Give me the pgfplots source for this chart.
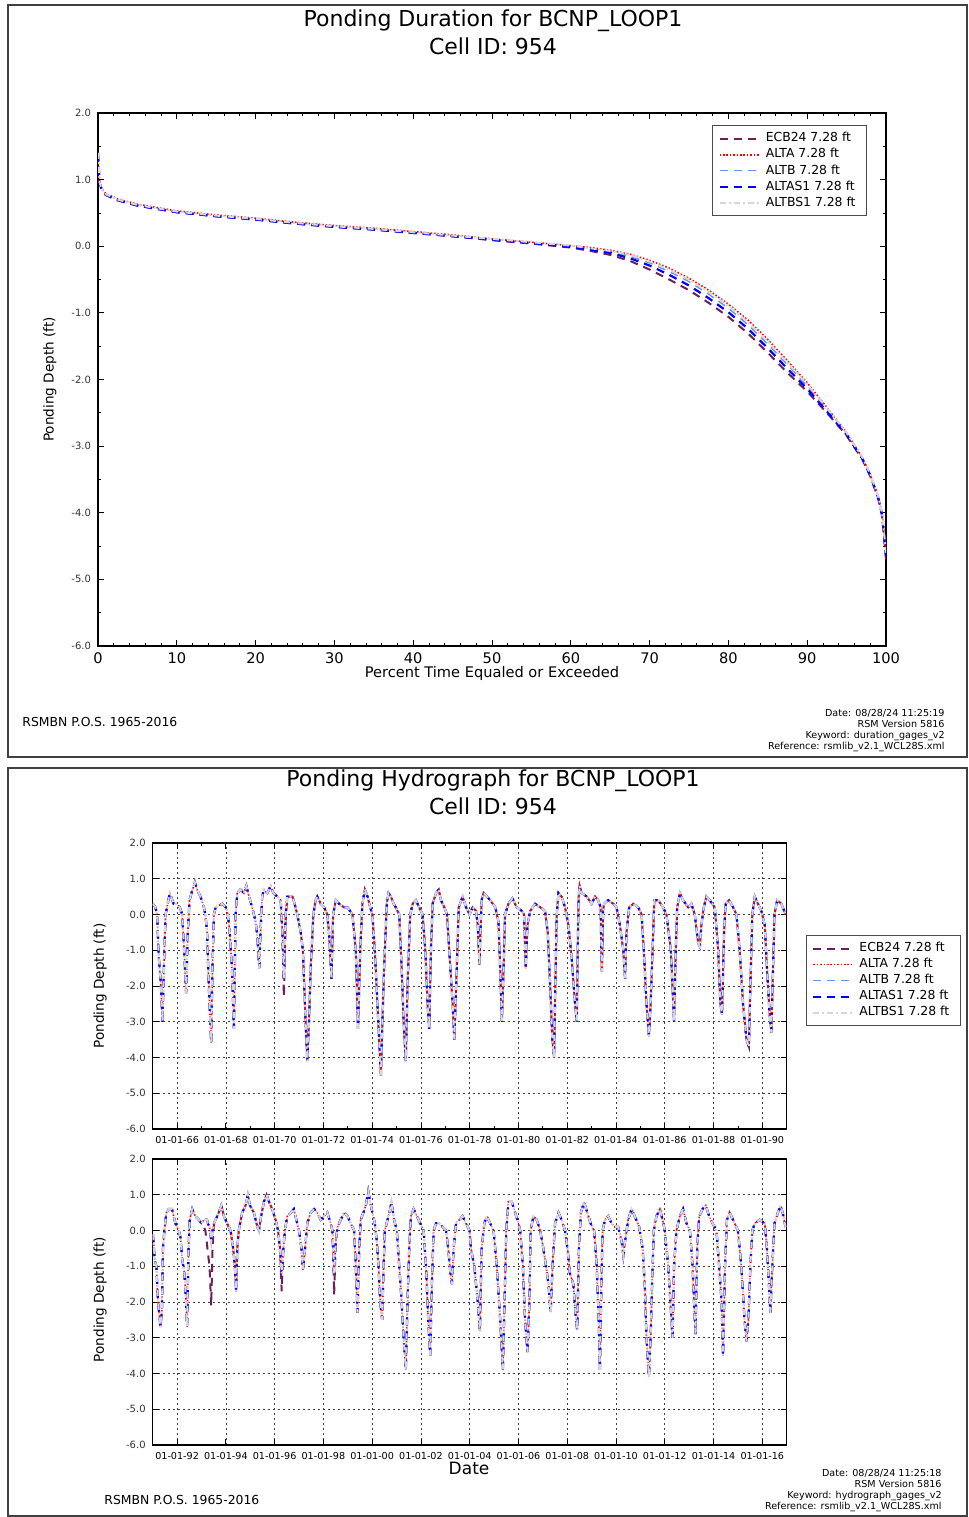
\documentclass[border=0pt]{standalone}
\usepackage{fontspec}
\setmainfont{DejaVu Sans}
\usepackage{pgfplots}
\usepackage{pgfplotstable}
\pgfplotsset{compat=1.18}

\definecolor{ecbcol}{HTML}{6E1E5E}
\definecolor{altbcol}{HTML}{6495ED}
\definecolor{altbscol}{HTML}{D6D6D6}

% duration curves, percent of time vs depth
\pgfplotstableread{
p     ecb   alta  altb  altas1 altbs1
0     1.40  1.40  1.40  1.40  1.40
0.2   0.95  0.97  0.96  0.95  0.96
0.5   0.84  0.86  0.85  0.84  0.85
1     0.77  0.79  0.78  0.77  0.78
2.5   0.69  0.71  0.70  0.69  0.70
5     0.61  0.63  0.62  0.61  0.62
10    0.51  0.53  0.52  0.51  0.52
15    0.45  0.47  0.46  0.45  0.46
20    0.40  0.42  0.41  0.40  0.41
25    0.34  0.36  0.35  0.34  0.35
30    0.29  0.31  0.30  0.29  0.30
35    0.25  0.27  0.26  0.25  0.26
40    0.20  0.22  0.21  0.20  0.21
45    0.15  0.17  0.16  0.15  0.16
50    0.09  0.11  0.10  0.10  0.11
55    0.04  0.06  0.05  0.05  0.06
60   -0.02  0.01  0.00 -0.01  0.01
62.5 -0.07 -0.02 -0.04 -0.05 -0.03
65   -0.13 -0.06 -0.08 -0.10 -0.07
67.5 -0.22 -0.12 -0.15 -0.18 -0.13
70   -0.35 -0.21 -0.25 -0.29 -0.23
72.5 -0.50 -0.33 -0.38 -0.43 -0.35
75   -0.66 -0.48 -0.53 -0.59 -0.50
77.5 -0.85 -0.66 -0.72 -0.78 -0.69
80   -1.06 -0.87 -0.93 -0.99 -0.89
82.5 -1.31 -1.11 -1.18 -1.24 -1.14
85   -1.60 -1.40 -1.47 -1.53 -1.43
87.5 -1.90 -1.72 -1.78 -1.84 -1.75
90   -2.18 -2.05 -2.10 -2.14 -2.07
92.5 -2.50 -2.42 -2.45 -2.48 -2.43
95   -2.84 -2.80 -2.81 -2.83 -2.80
97   -3.20 -3.17 -3.18 -3.19 -3.17
98   -3.45 -3.42 -3.43 -3.44 -3.42
99   -3.78 -3.75 -3.76 -3.77 -3.75
99.5 -4.05 -4.00 -4.02 -4.03 -4.01
100  -4.70 -4.60 -4.62 -4.65 -4.60
}\durtab

% hydrograph 1965-1991: y = alternatives, e = ECB24
\pgfplotstableread{
t y e
1965.00 0.3 0.3
1965.11 0.2 0.2
1965.18 0.0 0.0
1965.25 -1.2 -1.2
1965.34 -2.0 -2.0
1965.40 -3.0 -3.0
1965.48 -1.0 -1.0
1965.53 0.0 0.0
1965.70 0.6 0.6
1965.86 0.3 0.3
1966.00 0.3 0.3
1966.11 0.2 0.2
1966.21 0.0 0.0
1966.29 -1.0 -1.0
1966.37 -2.2 -2.2
1966.44 -0.5 -0.5
1966.51 0.4 0.4
1966.59 0.6 0.6
1966.73 0.9 0.9
1966.82 0.7 0.7
1966.96 0.5 0.5
1967.10 0.2 0.2
1967.16 0.0 0.0
1967.23 -0.5 -0.5
1967.30 -2.0 -2.0
1967.40 -3.6 -3.6
1967.45 -1.5 -1.5
1967.51 0.0 0.0
1967.58 0.2 0.2
1967.71 0.25 0.25
1967.85 0.3 0.3
1968.00 0.2 0.2
1968.08 0.0 0.0
1968.16 -0.5 -0.5
1968.25 -1.5 -1.5
1968.33 -3.2 -3.2
1968.40 0.0 0.0
1968.47 0.6 0.6
1968.60 0.7 0.7
1968.74 0.6 0.6
1968.84 0.8 0.8
1968.95 0.5 0.5
1969.08 0.2 0.2
1969.22 -0.2 -0.2
1969.29 -0.6 -0.6
1969.37 -1.5 -1.5
1969.42 -0.5 -0.5
1969.49 0.5 0.5
1969.56 0.7 0.7
1969.70 0.6 0.6
1969.84 0.8 0.8
1969.95 0.6 0.6
1970.11 0.5 0.5
1970.25 0.4 0.4
1970.32 -0.5 -0.6
1970.38 -1.8 -2.3
1970.45 0.0 -0.2
1970.52 0.5 0.5
1970.73 0.5 0.5
1970.82 0.3 0.3
1970.93 0.0 0.0
1971.07 -0.5 -0.5
1971.16 -1.0 -1.0
1971.27 -3.0 -3.0
1971.34 -4.1 -4.1
1971.41 -3.0 -3.0
1971.48 -1.5 -1.5
1971.59 0.0 0.0
1971.68 0.4 0.4
1971.75 0.5 0.5
1971.89 0.3 0.3
1972.03 0.2 0.2
1972.16 0.0 0.0
1972.23 -0.5 -0.5
1972.33 -1.8 -1.8
1972.40 0.0 0.0
1972.51 0.4 0.4
1972.64 0.3 0.3
1972.85 0.2 0.2
1972.99 0.2 0.2
1973.19 0.0 0.0
1973.33 -1.0 -1.0
1973.42 -3.2 -3.2
1973.51 -1.0 -1.0
1973.60 0.3 0.3
1973.70 0.7 0.7
1973.81 0.5 0.5
1973.92 0.2 0.2
1974.01 0.0 0.0
1974.11 -1.0 -1.0
1974.25 -3.0 -3.0
1974.36 -4.5 -4.5
1974.42 -3.0 -3.0
1974.49 -1.5 -1.5
1974.60 0.3 0.3
1974.67 0.6 0.6
1974.77 0.5 0.5
1974.88 0.3 0.3
1974.97 0.2 0.2
1975.11 0.0 0.0
1975.21 -1.5 -1.5
1975.29 -3.0 -3.0
1975.38 -4.1 -4.1
1975.45 -2.0 -2.0
1975.56 0.0 0.0
1975.66 0.3 0.3
1975.79 0.4 0.4
1975.93 0.2 0.2
1976.07 0.0 0.0
1976.18 -1.0 -1.0
1976.27 -2.5 -2.5
1976.34 -3.2 -3.2
1976.41 -1.0 -1.0
1976.48 0.3 0.3
1976.62 0.6 0.6
1976.73 0.7 0.7
1976.82 0.4 0.4
1976.96 0.2 0.2
1977.07 0.0 0.0
1977.16 -1.0 -1.0
1977.30 -2.5 -2.5
1977.37 -3.5 -3.5
1977.47 -1.5 -1.5
1977.55 0.2 0.2
1977.71 0.5 0.5
1977.85 0.2 0.2
1977.99 0.0 0.0
1978.12 0.2 0.2
1978.26 0.1 0.1
1978.33 -0.3 -0.3
1978.40 -1.4 -1.4
1978.44 -0.5 -0.5
1978.49 0.4 0.4
1978.57 0.6 0.6
1978.84 0.4 0.4
1979.05 0.2 0.2
1979.18 -0.2 -0.2
1979.25 -1.5 -1.5
1979.32 -3.0 -3.0
1979.39 -1.5 -1.5
1979.45 0.0 0.0
1979.59 0.3 0.3
1979.75 0.45 0.45
1979.93 0.2 0.2
1980.14 0.1 0.1
1980.23 0.0 0.0
1980.30 -1.5 -1.5
1980.37 -0.3 -0.3
1980.48 0.1 0.1
1980.68 0.3 0.3
1980.89 0.2 0.2
1981.09 0.1 0.1
1981.20 -0.5 -0.5
1981.30 -2.0 -2.0
1981.39 -3.5 -3.5
1981.46 -4.0 -4.0
1981.51 -2.0 -2.0
1981.57 0.0 0.0
1981.64 0.6 0.6
1981.77 0.5 0.5
1981.91 0.2 0.2
1982.05 -0.3 -0.3
1982.18 -1.2 -1.2
1982.32 -2.5 -2.5
1982.39 -3.0 -3.0
1982.43 -1.0 -1.0
1982.47 0.5 0.5
1982.51 0.8 0.8
1982.59 0.6 0.6
1982.80 0.5 0.5
1983.00 0.3 0.3
1983.14 0.5 0.5
1983.27 0.4 0.4
1983.37 0.2 0.2
1983.40 -1.0 -1.0
1983.42 -1.6 -1.6
1983.47 0.1 0.1
1983.51 0.3 0.3
1983.68 0.4 0.4
1983.89 0.3 0.3
1984.02 0.2 0.2
1984.16 -0.3 -0.3
1984.30 -1.0 -1.0
1984.37 -1.8 -1.8
1984.43 -0.5 -0.5
1984.54 0.2 0.2
1984.71 0.3 0.3
1984.91 0.2 0.2
1985.05 0.0 0.0
1985.14 -1.0 -1.0
1985.25 -2.5 -2.5
1985.35 -3.4 -3.4
1985.42 -2.5 -2.5
1985.50 -1.0 -1.0
1985.57 0.4 0.4
1985.73 0.4 0.4
1985.93 0.2 0.2
1986.07 0.0 0.0
1986.25 -1.0 -1.0
1986.38 -3.0 -3.0
1986.45 -1.0 -1.0
1986.51 0.2 0.2
1986.62 0.6 0.6
1986.75 0.4 0.4
1986.96 0.2 0.2
1987.09 0.3 0.3
1987.23 0.0 0.0
1987.37 -0.8 -0.8
1987.44 -0.9 -0.9
1987.50 -0.3 -0.3
1987.60 0.2 0.2
1987.71 0.5 0.5
1987.84 0.4 0.4
1988.05 0.2 0.2
1988.19 -1.0 -1.0
1988.28 -2.5 -2.5
1988.35 -2.8 -2.8
1988.43 -0.5 -0.5
1988.50 0.3 0.3
1988.64 0.4 0.4
1988.80 0.2 0.2
1988.94 0.0 0.0
1989.07 -1.0 -1.0
1989.21 -2.5 -2.5
1989.35 -3.5 -3.5
1989.45 -3.7 -3.7
1989.51 -2.0 -2.0
1989.59 0.0 0.0
1989.69 0.5 0.5
1989.82 0.3 0.3
1989.96 0.1 0.1
1990.10 -0.3 -0.3
1990.19 -1.5 -1.5
1990.30 -2.8 -2.8
1990.37 -3.3 -3.3
1990.44 -1.5 -1.5
1990.50 0.0 0.0
1990.61 0.4 0.4
1990.78 0.3 0.3
1990.96 0.0 0.0
}\hydA

% hydrograph 1991-2017
\pgfplotstableread{
t y e
1991.01 -0.1 -0.1
1991.08 -0.8 -0.8
1991.15 -1.0 -1.0
1991.22 -2.0 -2.0
1991.32 -2.7 -2.7
1991.38 -2.2 -2.2
1991.42 -0.5 -0.5
1991.48 0.0 0.0
1991.56 0.5 0.5
1991.66 0.6 0.6
1991.79 0.6 0.6
1991.93 0.2 0.2
1992.07 0.0 0.0
1992.14 -0.2 -0.2
1992.21 -0.8 -0.8
1992.30 -1.2 -1.2
1992.37 -2.0 -2.0
1992.41 -2.7 -2.7
1992.47 -0.5 -0.5
1992.52 0.3 0.3
1992.62 0.6 0.6
1992.75 0.4 0.4
1992.89 0.3 0.3
1993.00 0.2 0.2
1993.10 0.3 0.1
1993.16 0.3 0.0
1993.23 0.3 -0.4
1993.26 0.2 -0.6
1993.33 0.1 -1.0
1993.40 -0.3 -2.1
1993.45 0.0 -0.6
1993.51 0.2 0.2
1993.58 0.3 0.3
1993.71 0.5 0.5
1993.81 0.7 0.7
1993.92 0.4 0.4
1994.05 0.2 0.2
1994.19 0.0 0.0
1994.30 -0.5 -0.5
1994.37 -1.0 -1.0
1994.42 -1.7 -1.7
1994.47 -0.5 -0.5
1994.53 0.0 0.0
1994.67 0.5 0.5
1994.81 0.7 0.7
1994.90 1.0 1.0
1994.99 0.7 0.7
1995.15 0.5 0.5
1995.29 0.1 0.1
1995.36 0.0 0.0
1995.42 0.3 0.3
1995.56 0.8 0.8
1995.67 1.0 1.0
1995.77 0.8 0.8
1995.90 0.6 0.6
1996.04 0.3 0.3
1996.14 0.0 0.0
1996.22 -0.5 -0.5
1996.29 -1.2 -1.7
1996.36 -0.5 -0.5
1996.42 0.0 0.0
1996.52 0.4 0.4
1996.66 0.5 0.5
1996.79 0.6 0.6
1996.89 0.3 0.3
1997.00 0.0 0.0
1997.10 -0.5 -0.5
1997.16 -1.1 -1.1
1997.25 -0.5 -0.5
1997.34 0.2 0.2
1997.48 0.5 0.5
1997.62 0.6 0.6
1997.75 0.5 0.5
1997.89 0.3 0.3
1998.03 0.4 0.4
1998.16 0.5 0.5
1998.30 0.2 0.2
1998.37 0.0 0.0
1998.44 -1.2 -1.8
1998.51 -0.3 -0.3
1998.58 0.1 0.1
1998.71 0.3 0.3
1998.85 0.5 0.5
1998.99 0.4 0.4
1999.12 0.2 0.2
1999.26 0.0 0.0
1999.33 -1.0 -1.0
1999.40 -2.3 -2.3
1999.47 -0.5 -0.5
1999.53 0.3 0.3
1999.64 0.5 0.5
1999.74 0.7 0.7
1999.84 1.1 1.1
1999.92 0.8 0.8
2000.01 0.5 0.5
2000.11 0.2 0.2
2000.19 -0.3 -0.3
2000.26 -1.0 -1.0
2000.33 -2.0 -2.0
2000.41 -2.5 -2.5
2000.47 -1.0 -1.0
2000.52 0.0 0.0
2000.63 0.3 0.3
2000.74 0.6 0.6
2000.79 0.8 0.8
2000.90 0.3 0.3
2001.01 0.0 0.0
2001.11 -1.0 -1.0
2001.21 -2.0 -2.0
2001.29 -3.0 -3.0
2001.38 -3.9 -3.9
2001.45 -2.0 -2.0
2001.52 -0.5 -0.5
2001.59 0.4 0.4
2001.70 0.6 0.6
2001.84 0.4 0.4
2001.97 0.2 0.2
2002.11 0.0 0.0
2002.21 -1.0 -1.0
2002.30 -2.5 -2.5
2002.38 -3.5 -3.5
2002.45 -1.5 -1.5
2002.52 0.0 0.0
2002.62 0.2 0.2
2002.75 0.2 0.2
2002.89 0.1 0.1
2003.03 0.0 0.0
2003.12 -0.5 -0.5
2003.21 -1.2 -1.2
2003.27 -1.5 -1.5
2003.34 -0.5 -0.5
2003.44 0.2 0.2
2003.58 0.3 0.3
2003.71 0.4 0.4
2003.85 0.2 0.2
2003.99 0.0 0.0
2004.05 -0.5 -0.5
2004.19 -1.0 -1.0
2004.33 -2.0 -2.0
2004.42 -2.8 -2.8
2004.49 -0.5 -0.5
2004.60 0.2 0.2
2004.70 0.4 0.4
2004.84 0.2 0.2
2004.98 0.0 0.0
2005.11 -1.0 -1.0
2005.25 -2.5 -2.5
2005.36 -3.9 -3.9
2005.43 -2.0 -2.0
2005.50 0.0 0.0
2005.59 0.8 0.8
2005.73 0.8 0.8
2005.86 0.5 0.5
2006.00 0.2 0.2
2006.07 0.0 0.0
2006.18 -1.0 -1.0
2006.27 -2.5 -2.5
2006.37 -3.4 -3.4
2006.45 -2.0 -2.0
2006.50 0.0 0.0
2006.61 0.4 0.4
2006.75 0.3 0.3
2006.89 0.0 0.0
2007.02 -0.5 -0.5
2007.13 -1.0 -1.0
2007.23 -1.5 -1.5
2007.32 -2.3 -2.3
2007.41 -0.8 -0.8
2007.50 0.2 0.2
2007.64 0.5 0.5
2007.77 0.3 0.3
2007.91 0.0 0.0
2008.01 -0.5 -0.5
2008.11 -1.2 -1.2
2008.25 -1.5 -1.5
2008.36 -2.5 -2.5
2008.41 -2.8 -2.8
2008.48 -0.5 -0.5
2008.56 0.5 0.5
2008.69 0.8 0.8
2008.82 0.5 0.5
2008.96 0.2 0.2
2009.10 0.0 0.0
2009.21 -1.0 -1.0
2009.29 -2.5 -2.5
2009.34 -3.9 -3.9
2009.40 -1.5 -1.5
2009.45 0.0 0.0
2009.55 0.3 0.3
2009.68 0.4 0.4
2009.82 0.2 0.2
2009.96 0.1 0.1
2010.09 0.1 0.1
2010.23 -0.3 -0.3
2010.30 -0.7 -0.7
2010.37 -0.3 -0.3
2010.50 0.3 0.3
2010.64 0.6 0.6
2010.77 0.4 0.4
2010.95 0.1 0.1
2011.09 -0.5 -0.5
2011.18 -1.5 -1.5
2011.25 -3.0 -3.0
2011.35 -4.1 -4.1
2011.42 -3.0 -3.0
2011.48 -1.5 -1.5
2011.55 0.0 0.0
2011.66 0.4 0.4
2011.80 0.6 0.6
2011.91 0.3 0.3
2012.00 0.0 0.0
2012.14 -1.0 -1.0
2012.23 -2.0 -2.0
2012.32 -3.0 -3.0
2012.38 -1.0 -1.0
2012.48 0.0 0.0
2012.62 0.4 0.4
2012.75 0.6 0.6
2012.89 0.2 0.2
2013.03 0.0 0.0
2013.14 -1.0 -1.0
2013.20 -2.0 -2.0
2013.26 -2.9 -2.9
2013.33 -0.5 -0.5
2013.41 0.4 0.4
2013.55 0.6 0.6
2013.68 0.7 0.7
2013.82 0.4 0.4
2013.96 0.2 0.2
2014.12 0.0 0.0
2014.23 -1.0 -1.0
2014.33 -2.0 -2.0
2014.39 -3.5 -3.5
2014.47 -1.0 -1.0
2014.55 0.3 0.3
2014.66 0.5 0.5
2014.80 0.3 0.3
2015.00 0.0 0.0
2015.14 -1.0 -1.0
2015.27 -2.5 -2.5
2015.35 -3.1 -3.1
2015.43 -2.5 -2.5
2015.51 -1.0 -1.0
2015.59 0.0 0.0
2015.69 0.2 0.2
2015.89 0.3 0.3
2016.10 0.2 0.2
2016.19 -0.5 -0.5
2016.27 -1.5 -1.5
2016.33 -2.3 -2.3
2016.41 -1.0 -1.0
2016.50 0.2 0.2
2016.64 0.5 0.5
2016.75 0.7 0.7
2016.87 0.4 0.4
2016.95 0.1 0.1
}\hydB

\pgfplotsset{
  ecbline/.style={color=ecbcol, line width=1pt, dash pattern=on 4pt off 3pt},
  altaline/.style={color=red, line width=0.8pt, dash pattern=on 0.8pt off 0.9pt},
  altbline/.style={color=altbcol, line width=0.7pt, dash pattern=on 4pt off 3pt},
  altasline/.style={color=blue, line width=1.1pt, dash pattern=on 4pt off 3pt},
  altbsline/.style={color=altbscol, line width=1pt, dash pattern=on 3pt off 1.5pt on 1pt off 1.5pt},
  rsm/.style={
    scale only axis,
    anchor=north west,
    axis line style={black, line width=0.7pt},
    tick align=inside,
    major tick length=3pt,
    minor tick length=1.5pt,
    every tick/.style={black, line width=0.4pt},
    /pgf/number format/assume math mode=true,
    ymin=-6, ymax=2, ytick={-6,-5,...,2},
    yticklabel style={font=\fontsize{5}{6}\selectfont, text=black!80,
      /pgf/number format/.cd, fixed, fixed zerofill, precision=1},
    ylabel style={font=\fontsize{6.8}{8}\selectfont, anchor=center},
    legend cell align=left,
    legend image code/.code={\draw[##1] (0pt,0pt) -- (20pt,0pt);},
    legend style={font=\fontsize{6.2}{7}\selectfont, draw=black!70,
      line width=0.5pt, inner xsep=3pt, inner ysep=2.5pt, row sep=0pt,
      nodes={inner ysep=0.9pt, inner xsep=2.5pt}},
  },
  hydro/.style={rsm,
    width=317pt, height=143pt,
    grid=major,
    major grid style={black!75, line width=0.35pt, dash pattern=on 1pt off 1.5pt},
    minor x tick num=1,
    xticklabel style={font=\fontsize{4.8}{5.5}\selectfont},
    ylabel={Ponding Depth (ft)},
    ylabel style={at={(axis description cs:-0.083,0.5)}},
  },
}

\begin{document}
\begin{tikzpicture}
\useasboundingbox (0,0) rectangle (484.5pt,758.5pt);
\draw[black!75, line width=0.75pt] (4pt,380pt) rectangle (483.5pt,756pt);
\draw[black!75, line width=0.75pt] (4pt,0.4pt) rectangle (483.5pt,374.5pt);

% ---- duration panel ----
\node[font=\fontsize{11}{13}\selectfont] at (246.5pt,748pt) {Ponding Duration for BCNP\_LOOP1};
\node[font=\fontsize{11}{13}\selectfont] at (246.5pt,735.5pt) {Cell ID: 954};

\begin{axis}[rsm,
  at={(49pt,702pt)},
  width=394pt, height=266.5pt,
  xmin=0, xmax=100,
  xtick={0,10,...,100}, minor x tick num=4, minor y tick num=1,
  xticklabel style={font=\fontsize{7.3}{8}\selectfont},
  xlabel={Percent Time Equaled or Exceeded},
  xlabel style={font=\fontsize{7.3}{8}\selectfont, at={(axis description cs:0.5,-0.052)}, anchor=center},
  ylabel={Ponding Depth (ft)},
  ylabel style={at={(axis description cs:-0.061,0.5)}},
  legend style={at={(axis description cs:0.976,0.977)}, anchor=north east},
]
\addplot[ecbline] table[x=p,y=ecb]{\durtab};
\addlegendentry{ECB24 7.28 ft}
\addplot[altaline] table[x=p,y=alta]{\durtab};
\addlegendentry{ALTA 7.28 ft}
\addplot[altbline] table[x=p,y=altb]{\durtab};
\addlegendentry{ALTB 7.28 ft}
\addplot[altasline] table[x=p,y=altas1]{\durtab};
\addlegendentry{ALTAS1 7.28 ft}
\addplot[altbsline] table[x=p,y=altbs1]{\durtab};
\addlegendentry{ALTBS1 7.28 ft}
\end{axis}

\node[anchor=west, inner sep=0pt, font=\fontsize{6.2}{7}\selectfont] at (11pt,397.5pt) {RSMBN P.O.S. 1965-2016};
\node[anchor=north east, align=right, font=\fontsize{4.8}{5.5}\selectfont, inner sep=0pt] at (472.5pt,404pt)
  {Date: 08/28/24 11:25:19\\RSM Version 5816\\Keyword: duration\_gages\_v2\\Reference: rsmlib\_v2.1\_WCL28S.xml};

% ---- hydrograph panel ----
\node[font=\fontsize{11}{13}\selectfont] at (246.5pt,368pt) {Ponding Hydrograph for BCNP\_LOOP1};
\node[font=\fontsize{11}{13}\selectfont] at (246.5pt,355.5pt) {Cell ID: 954};

\begin{axis}[hydro,
  at={(76.35pt,337pt)},
  xmin=1965, xmax=1991,
  xtick={1966,1968,...,1990},
  xticklabels={01-01-66,01-01-68,01-01-70,01-01-72,01-01-74,01-01-76,01-01-78,01-01-80,01-01-82,01-01-84,01-01-86,01-01-88,01-01-90},
  legend style={at={(axis description cs:1.030,0.678)}, anchor=north west},
]
\addplot[ecbline] table[x=t,y=e]{\hydA};
\addlegendentry{ECB24 7.28 ft}
\addplot[altaline] table[x=t,y=y]{\hydA};
\addlegendentry{ALTA 7.28 ft}
\addplot[altbline] table[x=t,y=y]{\hydA};
\addlegendentry{ALTB 7.28 ft}
\addplot[altasline] table[x=t,y=y]{\hydA};
\addlegendentry{ALTAS1 7.28 ft}
\addplot[altbsline] table[x=t,y=y]{\hydA};
\addlegendentry{ALTBS1 7.28 ft}
\end{axis}

\begin{axis}[hydro,
  at={(76.35pt,179pt)},
  xmin=1991, xmax=2017,
  xtick={1992,1994,...,2016},
  xticklabels={01-01-92,01-01-94,01-01-96,01-01-98,01-01-00,01-01-02,01-01-04,01-01-06,01-01-08,01-01-10,01-01-12,01-01-14,01-01-16},
  xlabel={Date},
  xlabel style={font=\fontsize{8.5}{10}\selectfont, at={(axis description cs:0.499,-0.081)}, anchor=center},
  ylabel style={at={(axis description cs:-0.083,0.508)}},
]
\addplot[ecbline] table[x=t,y=e]{\hydB};
\addplot[altaline] table[x=t,y=y]{\hydB};
\addplot[altbline] table[x=t,y=y]{\hydB};
\addplot[altasline] table[x=t,y=y]{\hydB};
\addplot[altbsline] table[x=t,y=y]{\hydB};
\end{axis}

\node[anchor=west, inner sep=0pt, font=\fontsize{6.2}{7}\selectfont] at (52pt,8.5pt) {RSMBN P.O.S. 1965-2016};
\node[anchor=north east, align=right, font=\fontsize{4.8}{5.5}\selectfont, inner sep=0pt] at (471pt,24pt)
  {Date: 08/28/24 11:25:18\\RSM Version 5816\\Keyword: hydrograph\_gages\_v2\\Reference: rsmlib\_v2.1\_WCL28S.xml};
\end{tikzpicture}
\end{document}
